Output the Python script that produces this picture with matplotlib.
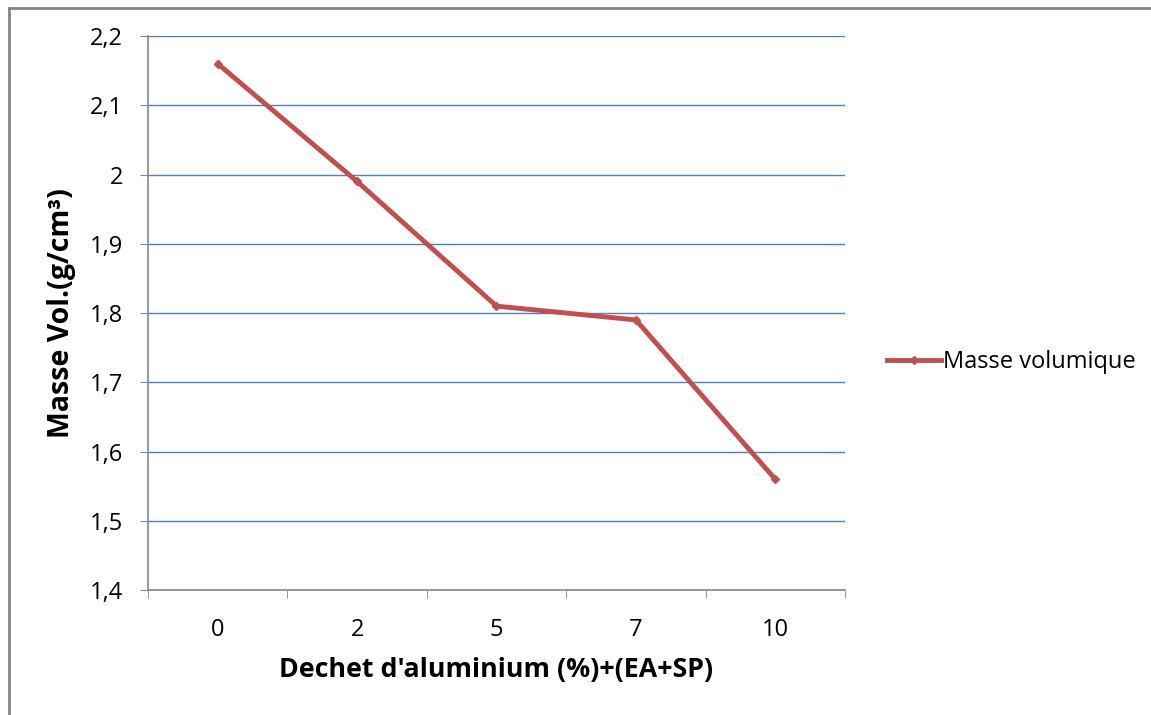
import matplotlib
matplotlib.use('Agg')
from matplotlib import pyplot as plt
from matplotlib.lines import Line2D
from matplotlib.ticker import FuncFormatter
import numpy as np

categories = ['0', '2', '5', '7', '10']
masse_vol = [2.16, 1.99, 1.81, 1.79, 1.56]
yticks = [1.4, 1.5, 1.6, 1.7, 1.8, 1.9, 2.0, 2.1, 2.2]

plt.rcParams['font.family'] = ['Open Sans', 'DejaVu Sans']

fig = plt.figure(figsize=(11.51, 7.15), dpi=100)
ax = fig.add_axes([0.1286, 0.1748, 0.6055, 0.7748])

x = np.arange(len(categories))
red = '#C0504D'
ax.plot(x, masse_vol, color=red, linewidth=3.5, marker='D', markersize=4,
        solid_joinstyle='miter', zorder=3)

ax.set_xlim(-0.5, len(categories) - 0.5)
ax.set_ylim(1.4, 2.2)
ax.set_yticks(yticks)
ax.yaxis.set_major_formatter(FuncFormatter(lambda v, p: ('%g' % round(v, 1)).replace('.', ',')))
ax.set_xticks(x)
ax.set_xticklabels(categories)
ax.set_xticks(np.arange(-0.5, len(categories)), minor=True)
ax.tick_params(axis='x', which='major', length=0, pad=20, labelsize=17)
ax.tick_params(axis='x', which='minor', length=6, color='#868686', direction='out')
ax.tick_params(axis='y', length=6, color='#868686', labelsize=17, pad=12)

ax.grid(axis='y', color='#4F81BD', linewidth=1)
ax.set_axisbelow(True)
for s in ['top', 'right']:
    ax.spines[s].set_visible(False)
for s in ['left', 'bottom']:
    ax.spines[s].set_color('#868686')
    ax.spines[s].set_linewidth(1.2)

ax.set_xlabel("Dechet d'aluminium (%)+(EA+SP)", fontsize=19.3, fontweight='bold', labelpad=11)
ax.set_ylabel('Masse Vol.(g/cm³)', fontsize=20.5, fontweight='bold', labelpad=10)

handle = Line2D([], [], color=red, linewidth=3.5, marker='D', markersize=4)
fig.legend([handle], ['Masse volumique'], loc='center left', bbox_to_anchor=(0.752, 0.494),
           frameon=False, fontsize=17, handlelength=2.3, handletextpad=0.1)

# chart frame (left and top edges visible)
fig.add_artist(Line2D([0.0078, 0.0078], [0, 0.989], color='#868686', linewidth=2))
fig.add_artist(Line2D([0.0078, 1.0], [0.989, 0.989], color='#868686', linewidth=2))

fig.savefig('out.png', dpi=100)
